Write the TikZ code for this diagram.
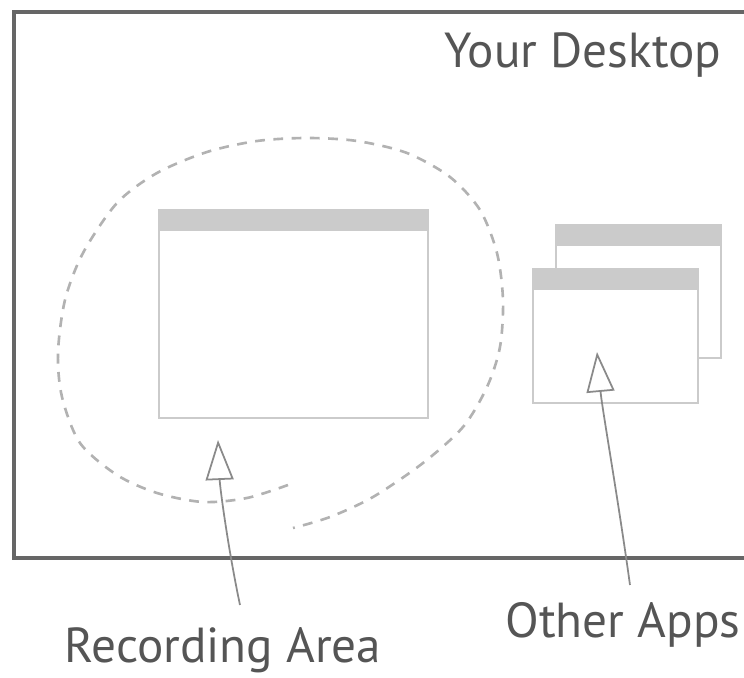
\documentclass[tikz,border=0pt]{standalone}
\usepackage{fontspec}
\setmainfont{PT Sans}
\usepackage{xcolor}
\usetikzlibrary{arrows.meta,positioning}

\definecolor{frameg}{HTML}{666666}
\definecolor{wing}{HTML}{CBCBCB}
\definecolor{textg}{HTML}{555555}
\definecolor{arrg}{HTML}{8A8A8A}

\begin{document}
\begin{tikzpicture}[
  win/.style={draw=wing,line width=0.6pt,fill=white,inner sep=0pt,
    minimum width=1.65cm,minimum height=1.34cm,
    path picture={\fill[wing] (path picture bounding box.north west)
      rectangle ([yshift=-0.21cm]path picture bounding box.north east);}},
  lbl/.style={font=\fontsize{14}{16}\selectfont,text=textg},
  ar/.style={draw=arrg,line width=0.5pt,-{Triangle[open,length=0.4cm,width=0.28cm]}}]
\useasboundingbox (0,0) rectangle (7.44,6.78);
% desktop frame
\draw[frameg,line width=0.9pt] (7.44,6.66) -- (0.14,6.66) -- (0.14,1.20) -- (7.44,1.20);
\node[lbl] (desk) at (5.83,6.23) {Your Desktop};
% recording area
\draw[gray!60,line width=0.75pt,dash pattern=on 2.8pt off 2.4pt] plot[smooth] coordinates {
  (2.88,1.93) (2.47,1.80) (2.03,1.76) (1.57,1.85) (1.17,2.03) (0.80,2.35)
  (0.62,2.81) (0.58,3.25) (0.65,3.78) (0.83,4.25) (1.17,4.75) (1.57,5.05)
  (2.07,5.26) (2.57,5.37) (3.07,5.40) (3.57,5.37) (4.07,5.25) (4.50,5.01)
  (4.80,4.68) (4.97,4.25) (5.03,3.78) (5.00,3.31) (4.87,2.91) (4.63,2.51)
  (4.23,2.15) (3.73,1.81) (3.30,1.61) (2.93,1.50)};
\node[win,minimum width=2.69cm,minimum height=2.08cm] (main) at (2.935,3.64) {};
% other apps
\node[win,minimum height=1.33cm] (back) at (6.385,3.865) {};
\node[win] (front) at (6.155,3.42) {};
% labels and pointers
\node[lbl] (rec) at (2.23,0.28) {Recording Area};
\node[lbl] (other) at (6.23,0.53) {Other Apps};
\coordinate (rec0) at (2.40,0.73);
\coordinate (rec1) at (2.18,2.38);
\coordinate (oth0) at (6.30,0.93);
\coordinate (oth1) at (5.97,3.26);
\draw[ar] (rec0) .. controls (2.28,1.30) and (2.20,1.90) .. (rec1);
\draw[ar] (oth0) .. controls (6.18,1.80) and (6.02,2.70) .. (oth1);
\end{tikzpicture}
\end{document}
